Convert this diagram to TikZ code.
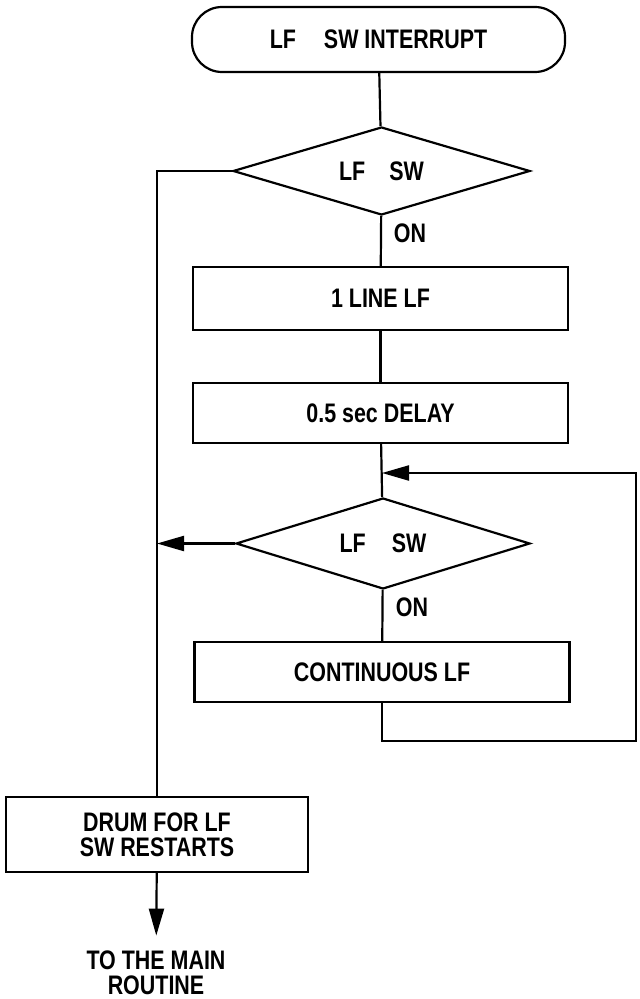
\documentclass[tikz,border=0pt]{standalone}
\usepackage{fontspec}
\setmainfont{Liberation Sans}[FakeStretch=0.8]
\usetikzlibrary{shapes.geometric}
\usetikzlibrary{arrows.meta}

\tikzset{
  terminal/.style={rectangle, draw, rounded corners=15pt, minimum width=186.5pt, minimum height=32.5pt},
  block/.style={rectangle, draw, minimum width=187.5pt, minimum height=30pt, inner sep=0pt},
  decision/.style={diamond, draw, inner sep=0pt},
  flow/.style={-{Triangle[length=13.5pt,width=7.5pt]}},
}

\begin{document}
\begin{tikzpicture}[x=0.5pt, y=-0.5pt, line width=1.1pt, font=\fontsize{13.4}{12.3}\selectfont\bfseries]
\useasboundingbox (0,0) rectangle (640,999);

\node[terminal] (start) at (378.5, 39.5) {LF\hspace{14pt}SW INTERRUPT};

\node[decision, aspect=3.375, minimum width=148.5pt, minimum height=44pt] (test1) at (381.5, 171) {LF\hspace{12pt}SW};
\node (on1) at (410, 233) {ON};

\node[block, minimum height=31.5pt] (block1) at (380.5, 298.5) {1 LINE LF};
\node[block] (block2) at (380.5, 413) {0.5 sec DELAY};

\node[decision, aspect=3.23, minimum width=147pt, minimum height=45.5pt] (test2) at (383, 543.5) {LF\hspace{13pt}SW};
\node (on2) at (412, 607) {ON};

\node[block] (block3) at (382, 672) {CONTINUOUS LF};

\node[block, minimum width=151pt, minimum height=37.5pt, align=center] (block4) at (157, 834.5) {DRUM FOR LF\\SW RESTARTS};
\node[align=center, inner sep=7pt] (finish) at (156, 972.5) {TO THE MAIN\\ROUTINE};

\coordinate (merge) at (382, 473);
\coordinate (loopend) at (636, 741);

% main line
\draw (start) -- (test1);
\draw (test1) -- (block1);
\draw (block1) -- (block2);
\draw (block2) -- (test2);
\draw (test2) -- (block3);

% loop back while the switch is held
\draw[flow] (block3.south) |- (loopend) |- (merge);

% switch released
\draw (test1.west) -| (block4.north);
\draw[flow] (test2.west) -- (test2.west -| block4.north);
\draw[flow] (block4) -- (finish);

\end{tikzpicture}
\end{document}
